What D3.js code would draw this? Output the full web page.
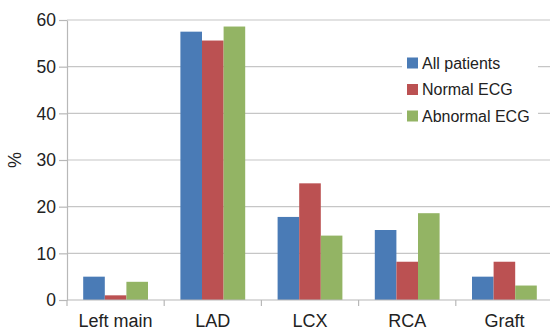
<!DOCTYPE html>
<html>
<head>
<meta charset="utf-8">
<script src="https://cdn.jsdelivr.net/npm/d3@7"></script>
<style>
  html, body { margin: 0; padding: 0; background: #fff; }
  svg { display: block; font-family: "Liberation Sans", Arial, Helvetica, sans-serif; }
</style>
</head>
<body>
<svg id="chart" width="550" height="331"></svg>
<script>
// Lesion location by group (%)
const categories = ["Left main", "LAD", "LCX", "RCA", "Graft"];
const seriesNames = ["All patients", "Normal ECG", "Abnormal ECG"];
const allPatients = [5.0, 57.5, 17.8, 15.0, 5.0];
const normalEcg = [1.0, 55.6, 25.0, 8.2, 8.2];
const abnormalEcg = [3.9, 58.6, 13.8, 18.6, 3.1];
const yTicks = [0, 10, 20, 30, 40, 50, 60];
const colors = ["#4a7bb6", "#bb5152", "#93b464"];

const seriesValues = [allPatients, normalEcg, abnormalEcg];

const svg = d3.select("#chart");
const plot = { left: 67, right: 553, top: 20, bottom: 300 };

const y = d3.scaleLinear().domain([0, 60]).range([plot.bottom, plot.top]);
const x0 = d3.scaleBand().domain(categories).range([plot.left, plot.right])
  .paddingInner(1 / 3).paddingOuter(1 / 6);
const x1 = d3.scaleBand().domain(seriesNames).range([0, x0.bandwidth()]);

// Horizontal gridlines
svg.append("g")
  .selectAll("line")
  .data(yTicks.filter(d => d > 0))
  .join("line")
  .attr("x1", plot.left).attr("x2", plot.right)
  .attr("y1", d => y(d)).attr("y2", d => y(d))
  .attr("stroke", "#c6c6c6").attr("stroke-width", 1.2);

// Bars
const groups = svg.append("g")
  .selectAll("g")
  .data(categories)
  .join("g")
  .attr("transform", d => `translate(${x0(d)},0)`);

groups.selectAll("rect")
  .data((c, i) => seriesNames.map((s, j) => ({ s, j, v: seriesValues[j][i] })))
  .join("rect")
  .attr("x", d => x1(d.s))
  .attr("width", x1.bandwidth())
  .attr("y", d => y(d.v))
  .attr("height", d => y(0) - y(d.v))
  .attr("fill", d => colors[d.j]);

// Y axis
const yAxis = svg.append("g")
  .attr("transform", `translate(${plot.left},0)`)
  .call(d3.axisLeft(y).tickValues(yTicks).tickSize(8).tickPadding(3).tickSizeOuter(0));
yAxis.select(".domain").attr("stroke", "#b8b8b8").attr("stroke-width", 1.2);
yAxis.selectAll(".tick line").attr("stroke", "#b8b8b8").attr("stroke-width", 1.2);
yAxis.selectAll(".tick text")
  .attr("font-size", 17.5).attr("fill", "#222").attr("dy", "0.34em")
  .attr("font-family", "Liberation Sans, Arial, sans-serif");

// X axis line and separators between categories
svg.append("line")
  .attr("x1", plot.left).attr("x2", plot.right)
  .attr("y1", plot.bottom).attr("y2", plot.bottom)
  .attr("stroke", "#b8b8b8").attr("stroke-width", 1.2);

const step = x0.step();
svg.append("g")
  .selectAll("line")
  .data(d3.range(categories.length + 1))
  .join("line")
  .attr("x1", i => plot.left + i * step).attr("x2", i => plot.left + i * step)
  .attr("y1", plot.bottom).attr("y2", plot.bottom + 6)
  .attr("stroke", "#b8b8b8").attr("stroke-width", 1.2);

// Category labels
const xAxis = svg.append("g")
  .attr("transform", `translate(0,${plot.bottom})`)
  .call(d3.axisBottom(x0).tickSize(0).tickPadding(0));
xAxis.select(".domain").remove();
xAxis.selectAll(".tick text")
  .attr("font-size", 18).attr("fill", "#222")
  .attr("y", 27).attr("dy", 0)
  .attr("font-family", "Liberation Sans, Arial, sans-serif");

// Y axis title
svg.append("text")
  .attr("transform", "translate(21,160) rotate(-90)")
  .attr("text-anchor", "middle")
  .attr("font-size", 18).attr("fill", "#222")
  .text("%");

// Legend
const legend = svg.append("g");
legend.append("rect")
  .attr("x", 402).attr("y", 50).attr("width", 136).attr("height", 78)
  .attr("fill", "#fff");
const legendRows = legend.selectAll("g.row")
  .data(seriesNames)
  .join("g")
  .attr("class", "row")
  .attr("transform", (d, i) => `translate(407,${63 + i * 26.5})`);
legendRows.append("rect")
  .attr("x", 0).attr("y", -5.5).attr("width", 11).attr("height", 11)
  .attr("fill", (d, i) => colors[i]);
legendRows.append("text")
  .attr("x", 15).attr("y", 0).attr("dy", "0.36em")
  .attr("font-size", 16).attr("fill", "#222")
  .text(d => d);
</script>
</body>
</html>
